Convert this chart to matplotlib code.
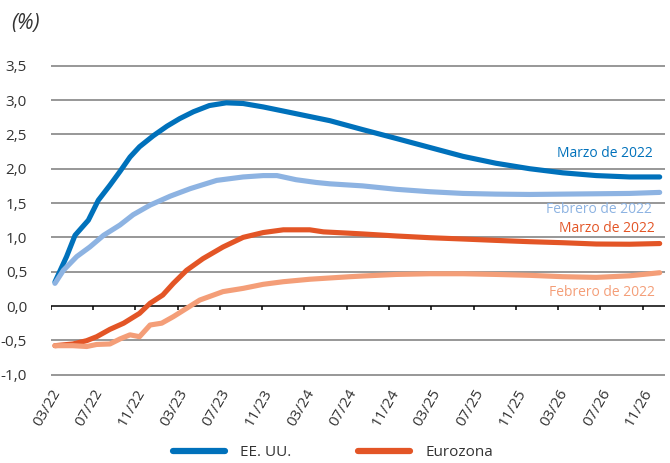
import matplotlib
matplotlib.use("Agg")
import matplotlib.pyplot as plt
from matplotlib.lines import Line2D

plt.rcParams['font.family'] = ['Open Sans', 'DejaVu Sans']

# months since 03/2022
us_mar_x = [0.4, 1.5, 2.3, 3.56, 4.5, 5.6, 6.55, 7.5, 8.4, 9.7, 11, 12.2, 13.5, 15, 16.6, 18.2, 20.1, 22, 24.2, 26.4,
            29.5, 32.7, 35.85, 39.0, 42.1, 45.3, 48.45, 51.6, 54.75, 57.6]
us_mar_y = [0.35, 0.72, 1.03, 1.25, 1.54, 1.76, 1.96, 2.17, 2.32, 2.48, 2.62, 2.73, 2.83, 2.92, 2.96, 2.95, 2.90, 2.84,
            2.77, 2.70, 2.57, 2.44, 2.31, 2.18, 2.08, 2.00, 1.94, 1.90, 1.88, 1.88]

us_feb_x = [0.4, 1.2, 2.46, 3.7, 5.0, 6.55, 7.8, 9.4, 11.3, 13.2, 15.7, 18.2, 20.1, 21.4, 23.2, 25.1, 26.4, 29.5, 32.7,
            35.85, 39.0, 42.1, 45.3, 48.45, 51.6, 54.75, 57.6]
us_feb_y = [0.33, 0.52, 0.72, 0.86, 1.03, 1.18, 1.33, 1.47, 1.60, 1.71, 1.83, 1.88, 1.90, 1.90, 1.84, 1.80, 1.78, 1.75,
            1.70, 1.665, 1.64, 1.63, 1.625, 1.63, 1.635, 1.64, 1.655]

ez_mar_x = [0.4, 2.1, 3.4, 4.35, 5.6, 6.9, 8.4, 9.4, 10.6, 11.6, 12.85, 14.4, 16.3, 18.2, 20.1, 22.0, 24.5, 25.8, 28.3,
            29.5, 32.7, 35.85, 39.0, 42.1, 45.3, 48.45, 51.6, 54.75, 57.6]
ez_mar_y = [-0.578, -0.553, -0.505, -0.447, -0.34, -0.25, -0.107, 0.04, 0.16, 0.33, 0.52, 0.69, 0.86, 1.00, 1.07, 1.11,
            1.11, 1.08, 1.06, 1.05, 1.02, 0.995, 0.976, 0.956, 0.937, 0.922, 0.903, 0.90, 0.91]

ez_feb_x = [0.4, 2.1, 3.4, 4.35, 5.6, 6.55, 7.5, 8.4, 9.4, 10.5, 11.6, 12.85, 14.1, 16.3, 18.2, 20.1, 22.0, 24.5, 28.3,
            29.5, 32.7, 35.85, 39.0, 42.1, 45.3, 48.45, 51.6, 54.75, 57.6]
ez_feb_y = [-0.578, -0.578, -0.59, -0.56, -0.553, -0.48, -0.42, -0.447, -0.277, -0.25, -0.155, -0.034, 0.087, 0.21,
            0.257, 0.316, 0.354, 0.39, 0.427, 0.437, 0.46, 0.47, 0.47, 0.46, 0.447, 0.427, 0.417, 0.44, 0.485]

x_ticks = [0, 4, 8, 12, 16, 20, 24, 28, 32, 36, 40, 44, 48, 52, 56]
x_labels = ['03/22', '07/22', '11/22', '03/23', '07/23', '11/23', '03/24', '07/24', '11/24',
            '03/25', '07/25', '11/25', '03/26', '07/26', '11/26']
y_ticks = [-1.0, -0.5, 0.0, 0.5, 1.0, 1.5, 2.0, 2.5, 3.0, 3.5]
y_labels = ['-1,0', '-0,5', '0,0', '0,5', '1,0', '1,5', '2,0', '2,5', '3,0', '3,5']

c_us_mar = '#0071bb'
c_us_feb = '#8db3e2'
c_ez_mar = '#e35526'
c_ez_feb = '#f49e78'
txt = '#333333'

fig = plt.figure(figsize=(6.70, 4.63), dpi=100)
ax = fig.add_axes([0.0757, 0.1834, 0.9925 - 0.0757, 0.8654 - 0.1834])
ax.set_xlim(0, 58.1)
ax.set_ylim(-1.05, 3.55)

for v in y_ticks:
    if v == 0:
        continue
    ax.axhline(v, color='#7a7a7a', lw=1.1, zorder=1)
ax.axhline(0, color='black', lw=1.1, zorder=1)
ax.vlines(x_ticks, -0.065, 0, color='black', lw=1.1, zorder=1)

lw = 3.7
ax.plot(us_mar_x, us_mar_y, color=c_us_mar, lw=lw, solid_capstyle='round', zorder=3)
ax.plot(ez_mar_x, ez_mar_y, color=c_ez_mar, lw=lw, solid_capstyle='round', zorder=3)
ax.plot(us_feb_x, us_feb_y, color=c_us_feb, lw=lw, solid_capstyle='round', zorder=4)
ax.plot(ez_feb_x, ez_feb_y, color=c_ez_feb, lw=lw, solid_capstyle='round', zorder=4)

ax.text(56.9, 2.22, 'Marzo de 2022', color=c_us_mar, fontsize=10, ha='right', va='center')
ax.text(56.9, 1.40, 'Febrero de 2022', color=c_us_feb, fontsize=10, ha='right', va='center')
ax.text(57.1, 1.135, 'Marzo de 2022', color=c_ez_mar, fontsize=10, ha='right', va='center')
ax.text(57.1, 0.19, 'Febrero de 2022', color=c_ez_feb, fontsize=10, ha='right', va='center')

for s in ax.spines.values():
    s.set_visible(False)
ax.set_yticks(y_ticks)
ax.set_yticklabels(y_labels, fontsize=11, color=txt)
ax.tick_params(axis='y', length=0, pad=17)
ax.set_xticks(x_ticks)
ax.set_xticklabels(x_labels, fontsize=11, color=txt, rotation=60, ha='right', va='top',
                   rotation_mode='anchor')
ax.tick_params(axis='x', length=0, pad=6)

fig.text(0.016, 0.950, '(%)', fontsize=15, style='italic', color=txt, ha='left', va='center')

handles = [Line2D([], [], color=c_us_mar, lw=4.5, solid_capstyle='round'),
           Line2D([], [], color=c_ez_mar, lw=4.5, solid_capstyle='round')]
fig.legend(handles, ['EE. UU.', 'Eurozona'], loc='center', bbox_to_anchor=(0.497, 0.022), ncol=2,
           frameon=False, fontsize=11, handlelength=3.4, handletextpad=1.0, columnspacing=4.4,
           labelcolor=txt)

fig.savefig('out.png', dpi=100)
